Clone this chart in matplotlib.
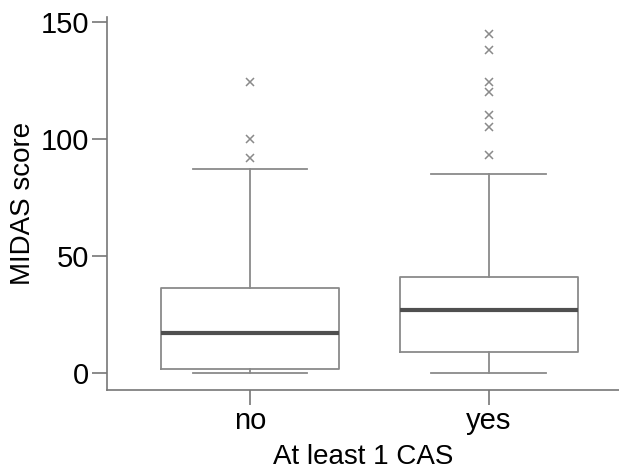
import matplotlib
matplotlib.use("Agg")
import matplotlib.pyplot as plt

plt.rcParams['font.family'] = ['Liberation Sans', 'DejaVu Sans']

categories = ["no", "yes"]
q1 = [2.0, 9.2]
medians = [17.1, 27.0]
q3 = [36.5, 41.0]
whisker_low = [0.0, 0.0]
whisker_high = [87.2, 85.2]
outliers_no = [124.4, 100.0, 92.0]
outliers_yes = [145.1, 138.2, 124.4, 120.2, 110.3, 105.1, 93.3]
outliers = [outliers_no, outliers_yes]
yticks = [0, 50, 100, 150]

stats = []
for i, c in enumerate(categories):
    stats.append(dict(label=c, q1=q1[i], med=medians[i], q3=q3[i],
                      whislo=whisker_low[i], whishi=whisker_high[i],
                      fliers=outliers[i]))

W, H = 619, 472
fig = plt.figure(figsize=(W / 100, H / 100), dpi=100)
left, right = 107, 619
top, bottom = 16.7, 390
ax = fig.add_axes([left / W, 1 - bottom / H, (right - left) / W, (bottom - top) / H])

boxc = '#8a8a8a'
ax.bxp(stats, positions=[0, 1], widths=0.746, capwidths=0.48,
       patch_artist=False,
       boxprops=dict(color=boxc, linewidth=1.3),
       whiskerprops=dict(color=boxc, linewidth=1.3),
       capprops=dict(color=boxc, linewidth=1.3),
       medianprops=dict(color='#4f4f4f', linewidth=3),
       flierprops=dict(marker='x', markersize=6, markeredgecolor='#8a8a8a',
                       markeredgewidth=1.1, linestyle='none'))

ax.set_xlim(-0.599, 1.546)
ax.set_ylim(-7.1, 152.4)
ax.set_yticks(yticks)
ax.set_xticks([0, 1])
ax.set_xticklabels(categories)

for s in ['top', 'right']:
    ax.spines[s].set_visible(False)
for s in ['left', 'bottom']:
    ax.spines[s].set_color('#777777')
    ax.spines[s].set_linewidth(1.2)

ax.tick_params(axis='both', length=11, width=1.2, color='#777777',
               labelsize=21, labelcolor='black')
ax.tick_params(axis='y', pad=2)
ax.tick_params(axis='x', pad=1)
ax.set_ylabel('MIDAS score', fontsize=20, labelpad=3)
ax.set_xlabel('At least 1 CAS', fontsize=20, labelpad=7)

fig.savefig('out.png', dpi=100)
